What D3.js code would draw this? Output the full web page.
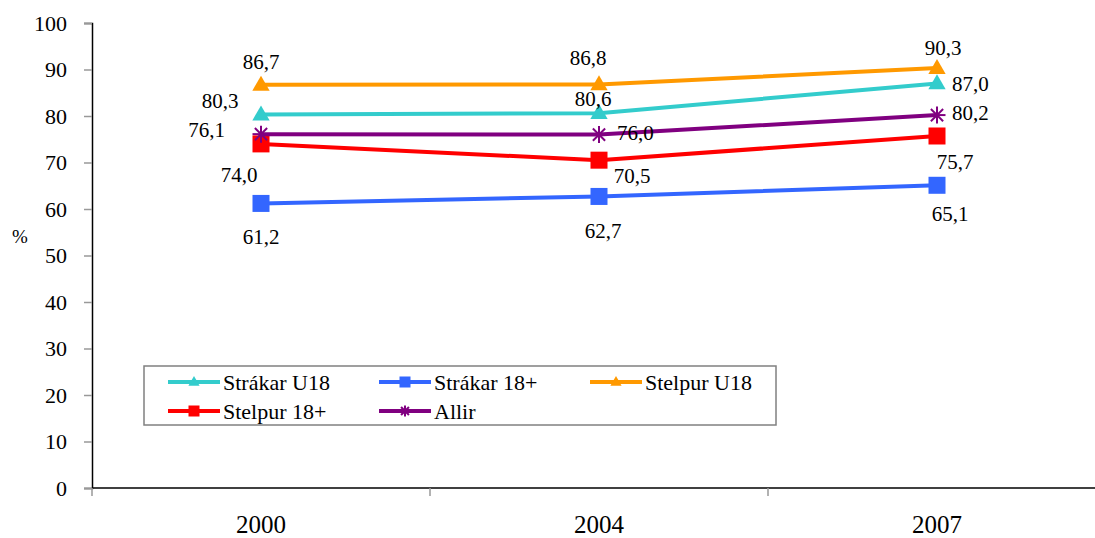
<!DOCTYPE html>
<html>
<head>
<meta charset="utf-8">
<script src="https://cdn.jsdelivr.net/npm/d3@7"></script>
<style>
  body { margin: 0; background: #fff; }
  svg text { fill: #000; }
</style>
</head>
<body>
<svg id="chart" width="1095" height="538" font-family="'Liberation Serif', 'DejaVu Serif', Tinos, serif"></svg>
<script>
// data
let years = ["2000", "2004", "2007"]
let seriesNames = ["Strákar U18", "Strákar 18+", "Stelpur U18", "Stelpur 18+", "Allir"]
let strakarU18 = [80.3, 80.6, 87.0]
let strakar18 = [61.2, 62.7, 65.1]
let stelpurU18 = [86.7, 86.8, 90.3]
let stelpur18 = [74.0, 70.5, 75.7]
let allir = [76.1, 76.0, 80.2]
let yTicks = [0, 10, 20, 30, 40, 50, 60, 70, 80, 90, 100]

// look of each series
let colors = ["#33CCCC", "#3366FF", "#FF9900", "#FF0000", "#800080"]
let markers = ["triangle", "square", "triangle", "square", "star"]

// where each value label sits relative to its point [dx, dy, anchor]
let labelOffsets = [
    [[-41, -14, "middle"], [-6, -15, "middle"], [15, 0, "start"]],
    [[0, 33, "middle"], [4, 34, "middle"], [13, 28, "middle"]],
    [[0, -23, "middle"], [-11, -27, "middle"], [6, -20, "middle"]],
    [[-22, 31, "middle"], [33, 15, "middle"], [18, 26, "middle"]],
    [[-36, -4, "end"], [18, -2, "start"], [15, -2, "start"]]
]

let allValues = [strakarU18, strakar18, stelpurU18, stelpur18, allir]
let series = seriesNames.map((name, i) => {
    return {
        name: name,
        color: colors[i],
        marker: markers[i],
        values: allValues[i].map((v, j) => ({ year: years[j], value: v }))
    }
})

let chart = d3.select('#chart')
let plotLeft = 92, plotBottom = 488, plotTop = 23, band = 338

let x = d3.scaleBand().domain(years).range([plotLeft, plotLeft + band * years.length]).padding(0)
let y = d3.scaleLinear().domain([0, 100]).range([plotBottom, plotTop])
let fmt = d3.formatLocale({ decimal: ",", thousands: ".", grouping: [3], currency: ["", ""] }).format(".1f")
let cx = (d) => x(d.year) + x.bandwidth() / 2

// y axis
let yAxis = chart.append("g")
    .attr("transform", "translate(" + plotLeft + ",0)")
    .call(d3.axisLeft(y).tickValues(yTicks).tickSize(8).tickPadding(17))
yAxis.attr("font-family", null).attr("font-size", 22)
yAxis.select(".domain").attr("stroke", "#000").attr("stroke-width", 1.5)
yAxis.selectAll(".tick line").attr("stroke", "#999").attr("stroke-width", 1.5)
yAxis.selectAll(".tick text").attr("fill", "#000")

chart.append("text")
    .attr("x", 20)
    .attr("y", 236)
    .attr("dy", "0.35em")
    .attr("text-anchor", "middle")
    .attr("font-size", 19)
    .text("%")

// x axis: line, boundary ticks, labels
chart.append("line")
    .attr("x1", plotLeft).attr("x2", 1095)
    .attr("y1", plotBottom).attr("y2", plotBottom)
    .attr("stroke", "#000").attr("stroke-width", 1.5)

chart.selectAll(".xtick")
    .data(years)
    .enter().append("line")
    .attr("class", "xtick")
    .attr("x1", (d) => x(d)).attr("x2", (d) => x(d))
    .attr("y1", plotBottom).attr("y2", plotBottom + 8)
    .attr("stroke", "#999").attr("stroke-width", 1.5)

chart.selectAll(".xlabel")
    .data(years)
    .enter().append("text")
    .attr("class", "xlabel")
    .attr("x", (d) => x(d) + x.bandwidth() / 2)
    .attr("y", 533)
    .attr("text-anchor", "middle")
    .attr("font-size", 26)
    .attr("textLength", 50)
    .attr("lengthAdjust", "spacingAndGlyphs")
    .text((d) => d)

// markers
let drawMarker = (g, type, color, size) => {
    if (type === "triangle") {
        g.append("path")
            .attr("d", d3.symbol().type(d3.symbolTriangle).size(size * size * 0.45)())
            .attr("transform", "translate(0," + (size * 0.05) + ")")
            .attr("fill", color)
    } else if (type === "square") {
        g.append("rect")
            .attr("x", -size / 2).attr("y", -size / 2)
            .attr("width", size).attr("height", size)
            .attr("fill", color)
    } else {
        let r = size / 2
        let a = r * 0.72
        let segs = [[-r, 0, r, 0], [0, -r, 0, r], [-a, -a, a, a], [-a, a, a, -a]]
        segs.forEach((s) => {
            g.append("line")
                .attr("x1", s[0]).attr("y1", s[1]).attr("x2", s[2]).attr("y2", s[3])
                .attr("stroke", color).attr("stroke-width", 2)
        })
    }
}

// lines
let line = d3.line()
    .x(cx)
    .y((d) => y(d.value))

series.forEach((s, i) => {
    let g = chart.append("g").attr("class", "series")
    g.append("path")
        .datum(s.values)
        .attr("d", line)
        .attr("fill", "none")
        .attr("stroke", s.color)
        .attr("stroke-width", 4)

    s.values.forEach((d) => {
        let m = g.append("g").attr("transform", "translate(" + cx(d) + "," + y(d.value) + ")")
        drawMarker(m, s.marker, s.color, 17)
    })
})

// value labels on top
series.forEach((s, i) => {
    chart.selectAll(".lbl" + i)
        .data(s.values)
        .enter().append("text")
        .attr("class", "lbl" + i)
        .attr("x", (d, j) => cx(d) + labelOffsets[i][j][0])
        .attr("y", (d, j) => y(d.value) + labelOffsets[i][j][1])
        .attr("dy", "0.35em")
        .attr("text-anchor", (d, j) => labelOffsets[i][j][2])
        .attr("font-size", 21)
        .text((d) => fmt(d.value))
})

// legend
let legend = chart.append("g")
legend.append("rect")
    .attr("x", 144).attr("y", 366)
    .attr("width", 632).attr("height", 59)
    .attr("fill", "#fff")
    .attr("stroke", "#808080").attr("stroke-width", 1.5)

series.forEach((s, i) => {
    let col = i % 3, row = Math.floor(i / 3)
    let lx = 168 + col * 211, ly = 382 + row * 29
    let item = legend.append("g").attr("transform", "translate(" + lx + "," + ly + ")")
    item.append("line")
        .attr("x1", 0).attr("x2", 52)
        .attr("y1", 0).attr("y2", 0)
        .attr("stroke", s.color).attr("stroke-width", 4)
    let m = item.append("g").attr("transform", "translate(26,0)")
    drawMarker(m, s.marker, s.color, 11)
    item.append("text")
        .attr("x", 55)
        .attr("y", 0)
        .attr("dy", "0.35em")
        .attr("font-size", 22)
        .text(s.name)
})
</script>
</body>
</html>
